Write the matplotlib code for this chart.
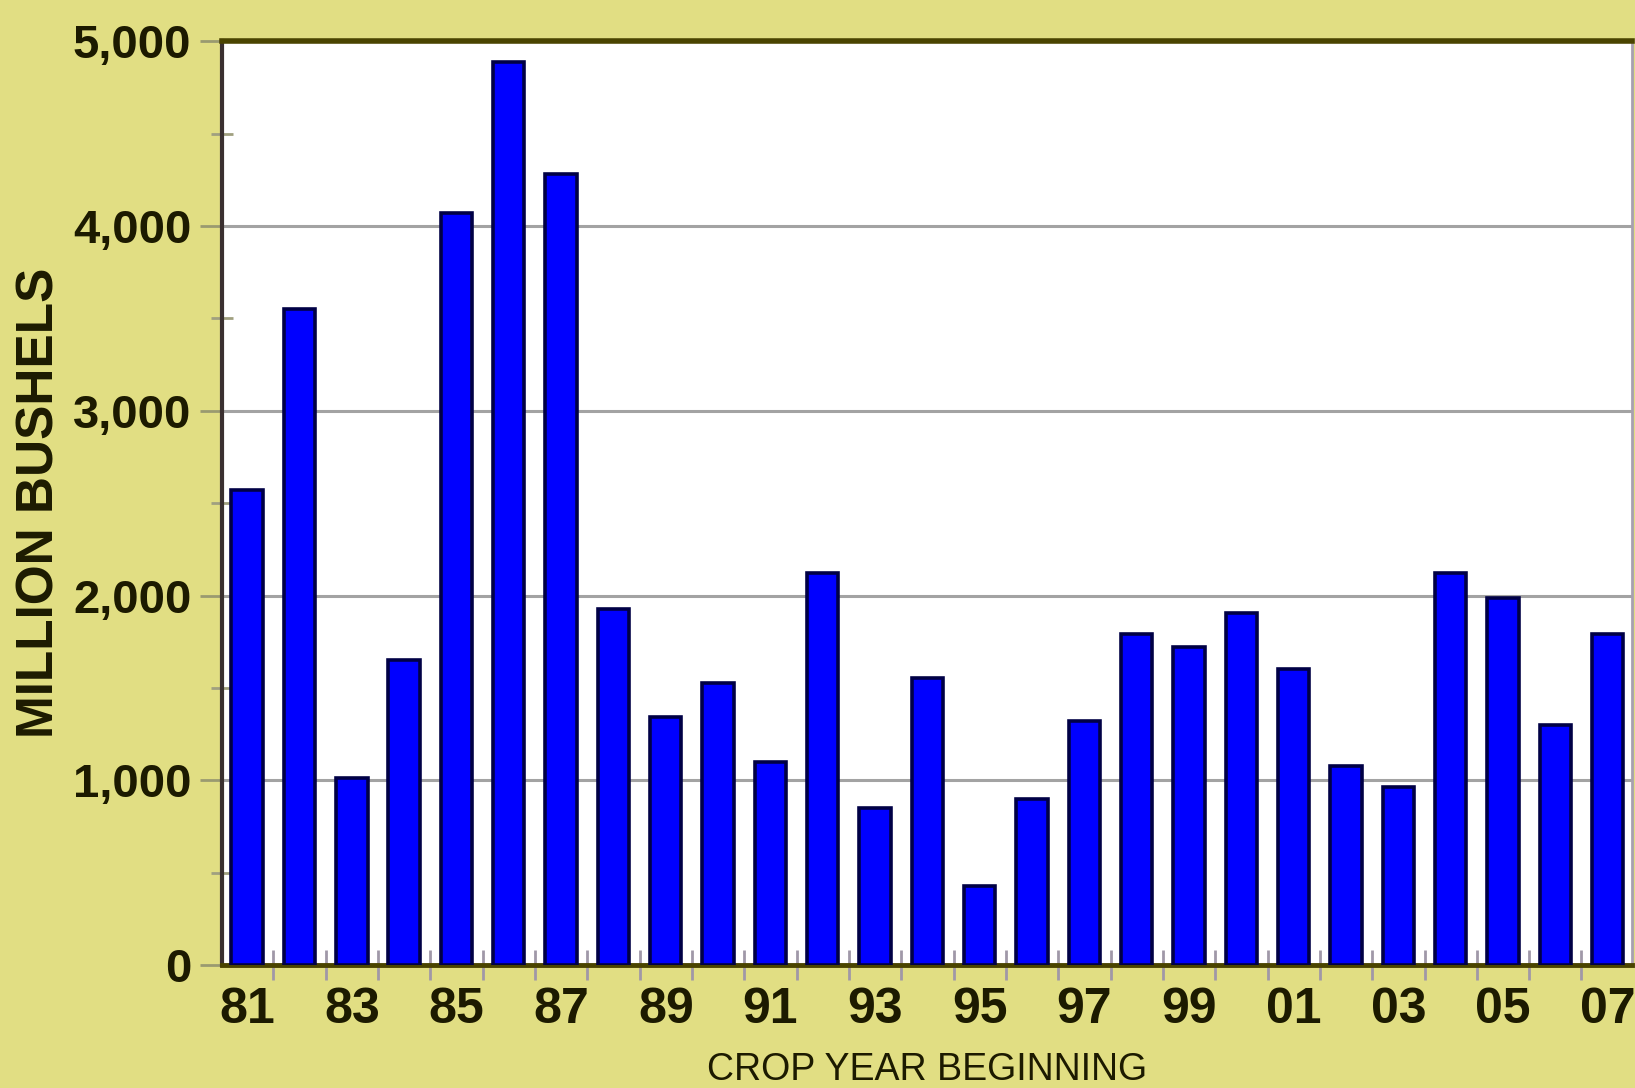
import matplotlib.pyplot as plt
from matplotlib.ticker import MultipleLocator, FixedLocator

years = ['81', '82', '83', '84', '85', '86', '87', '88', '89', '90', '91', '92', '93', '94',
         '95', '96', '97', '98', '99', '00', '01', '02', '03', '04', '05', '06', '07']
bushels = [2570, 3550, 1010, 1650, 4070, 4890, 4280, 1930, 1345, 1525, 1100, 2120, 850, 1555,
           430, 900, 1320, 1790, 1720, 1905, 1600, 1080, 965, 2120, 1985, 1300, 1790]
ytick_vals = [0, 1000, 2000, 3000, 4000, 5000]

bg = '#E1DE83'
ink = '#1c1a00'

plt.rcParams['font.family'] = ['Liberation Sans', 'DejaVu Sans']

fig = plt.figure(figsize=(16.35, 10.88), dpi=100, facecolor=bg)
ax = fig.add_axes([0.1358, 0.113, 0.998 - 0.1358, 0.962 - 0.113])
ax.set_facecolor('white')

x = list(range(len(years)))
ax.bar(x, bushels, width=0.6, color='#0000FF', edgecolor='#000045', linewidth=2.6, zorder=3)

ax.set_xlim(-0.48, len(years) - 1 + 0.46)
ax.set_ylim(0, 5000)

# y axis
ax.yaxis.set_major_locator(FixedLocator(ytick_vals))
ax.yaxis.set_minor_locator(MultipleLocator(500))
ax.set_yticklabels([f'{v:,}' for v in ytick_vals], fontsize=34, fontweight='bold', color=ink)
ax.tick_params(axis='y', which='major', direction='out', length=16, width=2, color='#9a9a70', pad=6)
ax.tick_params(axis='y', which='minor', direction='inout', length=16, width=2, color='#a0a080')
ax.grid(axis='y', which='major', color='#a3a3a3', linewidth=2.2, zorder=1)

# x axis: labels under odd years, ticks between bars
ax.xaxis.set_major_locator(FixedLocator(x[::2]))
ax.set_xticklabels(years[::2], fontsize=36, fontweight='bold', color=ink)
ax.xaxis.set_minor_locator(FixedLocator([i + 0.5 for i in x[:-1]]))
ax.tick_params(axis='x', which='major', length=0, pad=16)
ax.tick_params(axis='x', which='minor', direction='inout', length=22, width=2, color='#a098a8')

ax.spines['top'].set_color('#4a4400')
ax.spines['top'].set_linewidth(4)
ax.spines['bottom'].set_color('#4a4400')
ax.spines['bottom'].set_linewidth(3.5)
ax.spines['left'].set_color('#3a3030')
ax.spines['left'].set_linewidth(3)
ax.spines['right'].set_color('#a8a0b0')
ax.spines['right'].set_linewidth(2)

fig.text(0.0245, 0.5377, 'MILLION BUSHELS', rotation=90, ha='center', va='center',
         fontsize=37, fontweight='bold', color=ink)
fig.text(0.567, 0.033, 'CROP YEAR BEGINNING', ha='center', va='top',
         fontsize=27, color=ink)

fig.savefig('out.png', dpi=100, facecolor=bg)
